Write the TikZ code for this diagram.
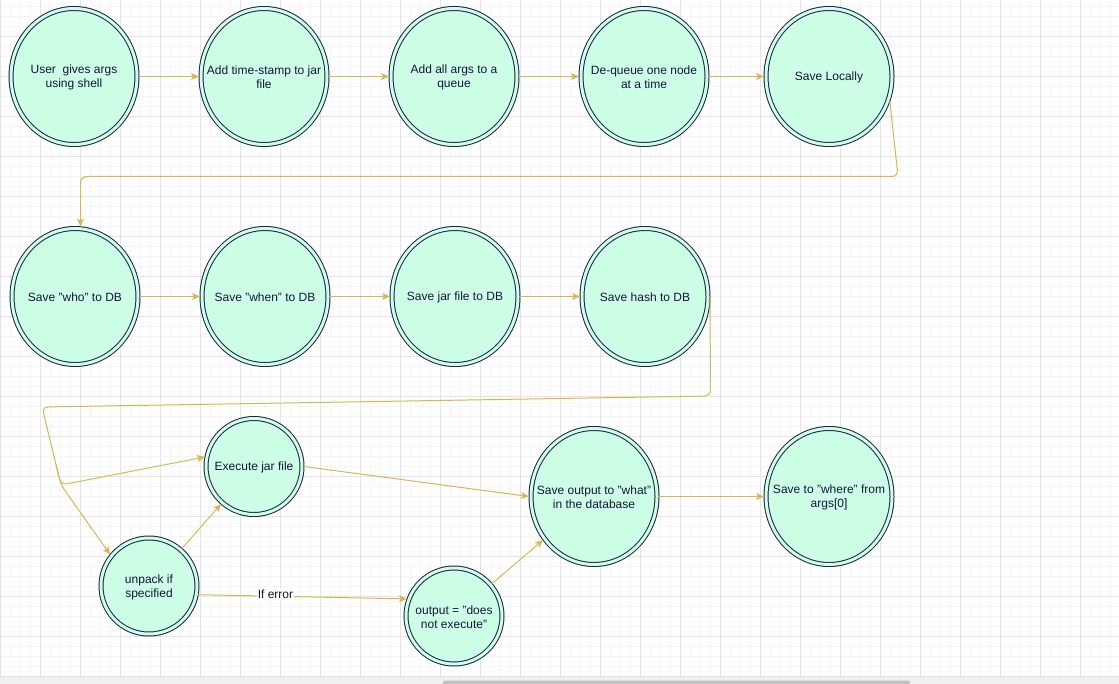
\documentclass[tikz,border=0pt]{standalone}
\usepackage{fontspec}
\setmainfont{Liberation Sans}
\usetikzlibrary{shapes.geometric,arrows.meta}
\definecolor{mint}{HTML}{CCFFE6}
\definecolor{strk}{HTML}{1F1F47}
\definecolor{txtc}{HTML}{14143A}
\definecolor{edgec}{HTML}{D6B656}
\definecolor{gmaj}{HTML}{E4E4E4}
\definecolor{gmin}{HTML}{F5F5F5}
\definecolor{band}{HTML}{F0F0F0}
\definecolor{thumb}{HTML}{C1C1C1}
\begin{document}
\begin{tikzpicture}[x=0.75pt,y=-0.75pt,
 state/.style={ellipse, inner sep=0pt, draw=strk, line width=0.75pt, double=mint, double distance=2.25pt, fill=mint, outer sep=1.5pt},
 big/.style={state, minimum width=94.5pt, minimum height=102pt},
 small/.style={state, minimum width=72pt, minimum height=72pt},
 lbl/.style={font=\fontsize{9}{10.5}\selectfont, align=center, text=txtc, inner sep=0pt},
 inlbl/.style={lbl, yshift=-0.8pt},
 arr/.style={draw=edgec, line width=0.75pt, -{Stealth[length=6pt,width=5.25pt,inset=1.5pt]}, rounded corners=4.5pt}]
\useasboundingbox (0,0) rectangle (1119,684);
\fill[white] (0,0) rectangle (1119,684);
% grid
\foreach \x in {0.5,10.5,...,1110.5} \draw[gmin, line width=0.75pt] (\x,0) -- (\x,677);
\foreach \y in {6.5,16.5,...,676.5} \draw[gmin, line width=0.75pt] (0,\y) -- (1119,\y);
\foreach \x in {0.5,40.5,...,1110.5} \draw[gmaj, line width=0.75pt] (\x,0) -- (\x,677);
\foreach \y in {36.5,76.5,...,676.5} \draw[gmaj, line width=0.75pt] (0,\y) -- (1119,\y);
% scroll band
\fill[band] (0,677) rectangle (1119,684);
\fill[thumb, rounded corners=1.5pt] (443,680.5) rectangle (910,686);
% nodes
\node[big, label={[inlbl,name=t1]center:{User~ gives args\\using shell}}] (n1) at (74,76.5) {};
\node[big, label={[inlbl,name=t2]center:{Add time-stamp to jar\\file}}] (n2) at (264,76.5) {};
\node[big, label={[inlbl,name=t3]center:{Add all args to a\\queue}}] (n3) at (454,76.5) {};
\node[big, label={[inlbl,name=t4]center:{De-queue one node\\at a time}}] (n4) at (644,76.5) {};
\node[big, label={[inlbl,name=t5]center:{Save Locally}}] (n5) at (829,76.5) {};
\node[big, label={[inlbl,name=t6]center:{Save "who" to DB}}] (n6) at (75,296.5) {};
\node[big, label={[inlbl,name=t7]center:{Save "when" to DB}}] (n7) at (265,296.5) {};
\node[big, label={[inlbl,name=t8]center:{Save jar file to DB}}] (n8) at (455,296.5) {};
\node[big, label={[inlbl,name=t9]center:{Save hash to DB}}] (n9) at (645,296.5) {};
\node[small, label={[inlbl,name=t10]center:{Execute jar file}}] (exec) at (254,466.5) {};
\node[small, label={[inlbl,name=t11]center:{unpack if\\specified}}] (unpack) at (149,586) {};
\node[small, label={[inlbl,name=t12]center:{output = "does\\not execute"}}] (out) at (454,616) {};
\node[big, label={[inlbl,name=t13]center:{Save output to "what"\\in the database}}] (sout) at (594,496.5) {};
\node[big, label={[inlbl,name=t14]center:{Save to "where" from\\args[0]}}] (where) at (829,496.5) {};
% waypoints
\coordinate (c1) at (898,176.5);
\coordinate (c2) at (80.5,176.5);
\coordinate (c3) at (80.5,226.7);
\coordinate (k1) at (710.5,396);
\coordinate (k2) at (42,407);
\coordinate (k3) at (61,485);
\coordinate (k4) at (56,465);
% edges
\draw[arr] (n1) -- (n2);
\draw[arr] (n2) -- (n3);
\draw[arr] (n3) -- (n4);
\draw[arr] (n4) -- (n5);
\draw[arr] (n5.-22) -- (c1) -- (c2) -- (c3);
\draw[arr] (n6) -- (n7);
\draw[arr] (n7) -- (n8);
\draw[arr] (n8) -- (n9);
\draw[arr] (n9.east) -- (k1) -- (k2) -- (k3) -- (exec.169);
\draw[arr] (k4) -- (k3) -- (unpack.141);
\draw[arr] (unpack) -- (exec);
\draw[arr] (unpack.-10) -- node[lbl, fill=white, inner sep=1pt, pos=0.37, yshift=1.2pt] (ie) {If error} (out.160);
\draw[arr] (exec.east) -- (sout.west);
\draw[arr] (out) -- (sout);
\draw[arr] (sout) -- (where);
\end{tikzpicture}
\end{document}
